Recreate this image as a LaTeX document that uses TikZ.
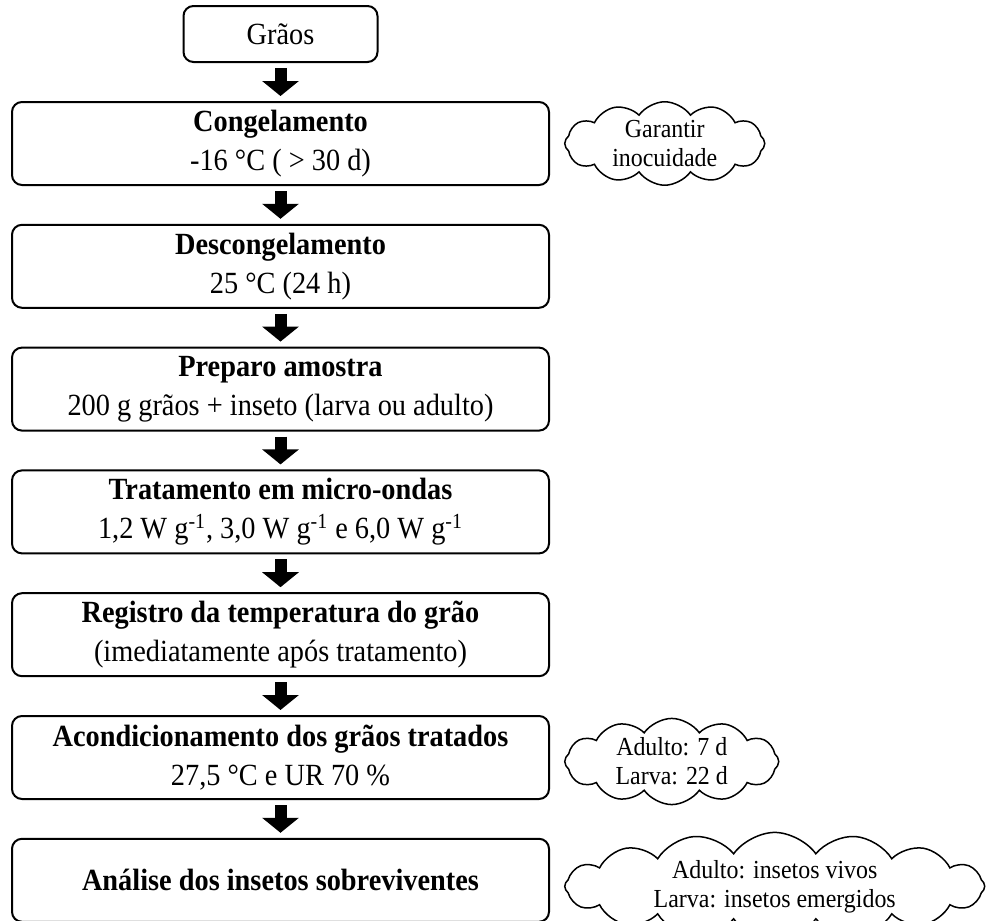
\documentclass[tikz,border=0pt]{standalone}
\usepackage{fontspec}
\setmainfont{Liberation Serif}[FakeStretch=0.92]
\usetikzlibrary{positioning,shapes.symbols,arrows.meta}
\begin{document}
\begin{tikzpicture}[x=0.5pt,y=-0.5pt,node distance=61.4pt]
        % Define styles for nodes and arrows
        \tikzstyle{inicio} = [rectangle, rounded corners=5pt, minimum width=97pt, minimum height=28pt, text centered, draw=black, line width=1pt, font=\fontsize{15.4}{20}\selectfont]
        \tikzstyle{etapa} = [rectangle, rounded corners=5pt, minimum width=268.5pt, minimum height=41.5pt, inner sep=0pt, align=center, draw=black, line width=1pt, font=\fontsize{15.4}{19.5}\selectfont]
        \tikzstyle{nota} = [cloud, cloud puffs=12, cloud puff arc=110, cloud ignores aspect, minimum width=100pt, minimum height=30pt, inner sep=0pt, align=center, draw=black, line width=0.75pt, font=\fontsize{13}{14.5}\selectfont]
        \tikzstyle{arrow} = [line width=6pt, -{Triangle[width=18pt,length=7.5pt]}, shorten <=2.5pt, shorten >=2.5pt]

        \useasboundingbox (0,0) rectangle (987,921);

        \node (graos) [inicio] at (280.5,34) {Grãos};
        \node (cong) [etapa, below of = graos, node distance=54.75pt] {\textbf{Congelamento}\\-16 °C ( > 30 d)};
        \node (descong) [etapa, below of = cong] {\textbf{Descongelamento}\\25 °C (24 h)};
        \node (preparo) [etapa, below of = descong] {\textbf{Preparo amostra}\\200 g grãos + inseto (larva ou adulto)};
        \node (trat) [etapa, below of = preparo] {\textbf{Tratamento em micro-ondas}\\1,2 W g\textsuperscript{-1}, 3,0 W g\textsuperscript{-1} e 6,0 W g\textsuperscript{-1}};
        \node (registro) [etapa, below of = trat] {\textbf{Registro da temperatura do grão}\\(imediatamente após tratamento)};
        \node (acond) [etapa, below of = registro] {\textbf{Acondicionamento dos grãos tratados}\\27,5 °C e UR 70 \%};
        \node (analise) [etapa, below of = acond] {\textbf{Análise dos insetos sobreviventes}};

        % Notes
        \node (nota1) [nota, right=7pt of cong] {Garantir\\inocuidade};
        \node (nota2) [nota, right=7pt of acond, yshift=-2pt, minimum width=107pt, minimum height=31pt] {Adulto: 7 d\\Larva: 22 d};
        \node (nota3) [nota, right=7pt of analise, yshift=-3pt, cloud puffs=16, minimum width=210pt, minimum height=30pt] {Adulto: insetos vivos\\Larva: insetos emergidos};

        % Arrows
        \draw [arrow] (graos) -- (cong);
        \draw [arrow] (cong) -- (descong);
        \draw [arrow] (descong) -- (preparo);
        \draw [arrow] (preparo) -- (trat);
        \draw [arrow] (trat) -- (registro);
        \draw [arrow] (registro) -- (acond);
        \draw [arrow] (acond) -- (analise);
    \end{tikzpicture}
\end{document}
